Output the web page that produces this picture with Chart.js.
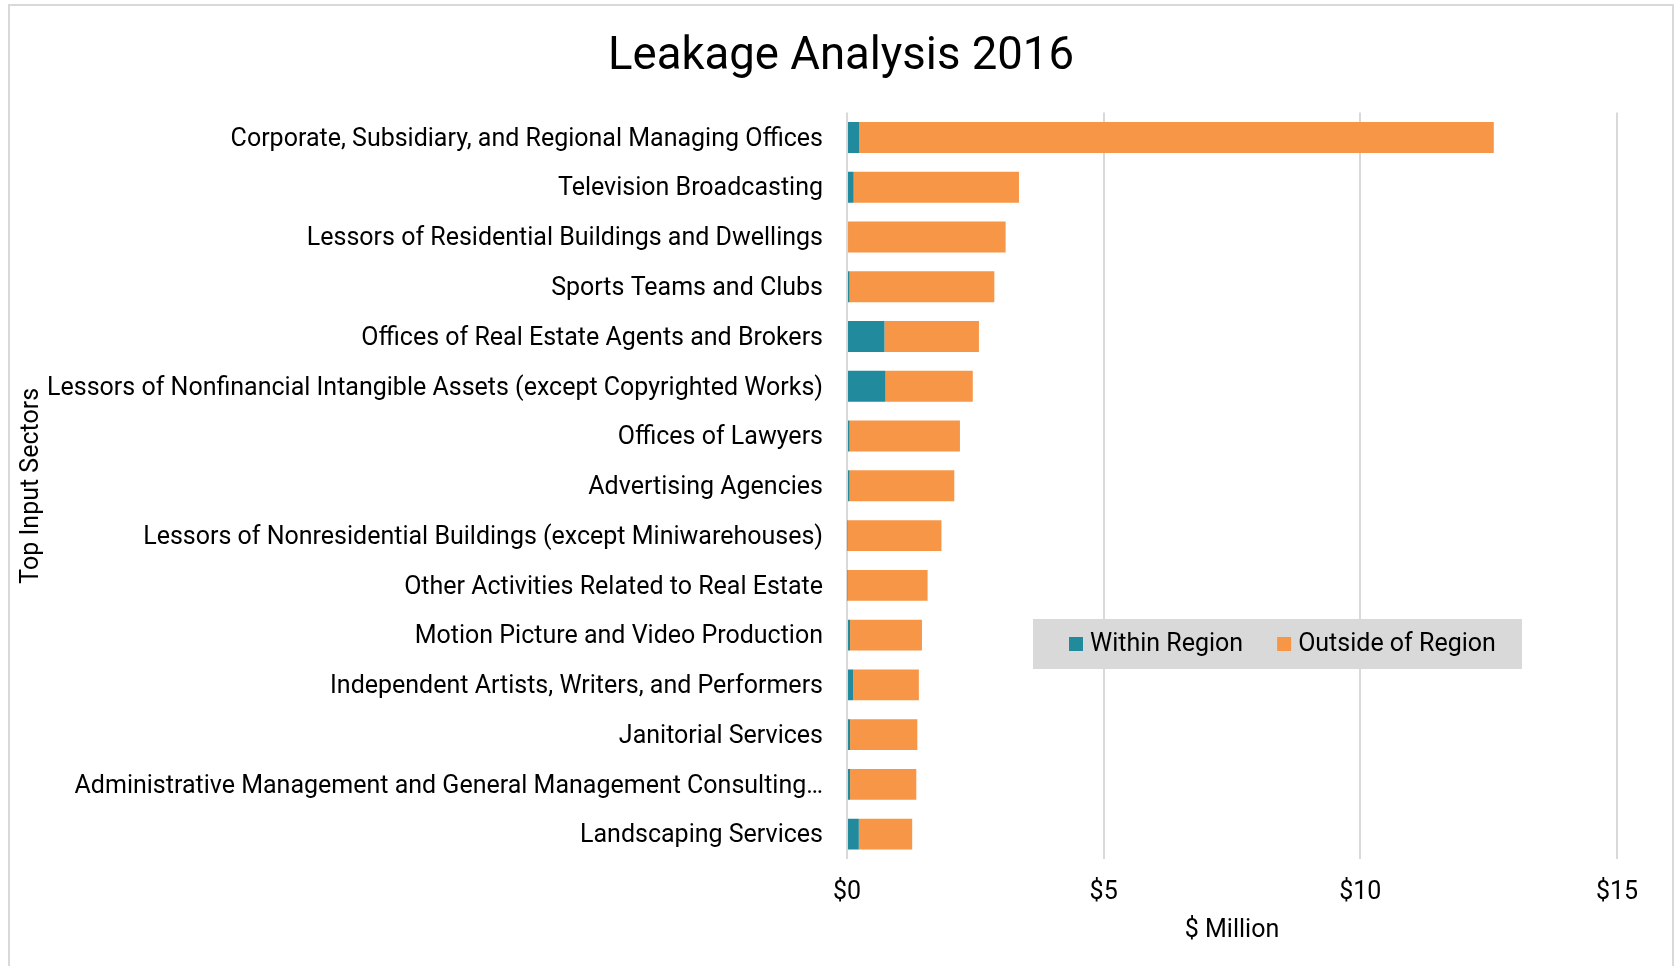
<!DOCTYPE html>
<html>
<head>
<meta charset="utf-8">
<script src="https://cdn.jsdelivr.net/npm/chart.js@4/dist/chart.umd.min.js"></script>
<style>
    html, body { margin: 0; padding: 0; background: #ffffff; }
    #leakageChart { display: block; }
</style>
</head>
<body>
<canvas id="leakageChart" width="1674" height="966"></canvas>
<script>
// Sectors, top to bottom
const sectors = [
    'Corporate, Subsidiary, and Regional Managing Offices',
    'Television Broadcasting',
    'Lessors of Residential Buildings and Dwellings',
    'Sports Teams and Clubs',
    'Offices of Real Estate Agents and Brokers',
    'Lessors of Nonfinancial Intangible Assets (except Copyrighted Works)',
    'Offices of Lawyers',
    'Advertising Agencies',
    'Lessors of Nonresidential Buildings (except Miniwarehouses)',
    'Other Activities Related to Real Estate',
    'Motion Picture and Video Production',
    'Independent Artists, Writers, and Performers',
    'Janitorial Services',
    'Administrative Management and General Management Consulting\u2026',
    'Landscaping Services'
];

// $ Million
const withinRegion = [0.24, 0.13, 0.02, 0.05, 0.73, 0.75, 0.05, 0.05, 0.01, 0.01, 0.06, 0.12, 0.06, 0.06, 0.23];
const outsideRegion = [12.36, 3.22, 3.07, 2.82, 1.84, 1.70, 2.15, 2.04, 1.83, 1.56, 1.40, 1.28, 1.31, 1.29, 1.04];

const xTicks = [0, 5, 10, 15];

const TEAL = '#218a9c';
const ORANGE = '#f79646';
const GRID = '#d9d9d9';
const FONT = 'Roboto, "Liberation Sans", sans-serif';

// white background + light frame like the exported chart
const framePlugin = {
    id: 'frame',
    beforeDraw(chart) {
        const ctx = chart.ctx;
        ctx.save();
        ctx.fillStyle = '#ffffff';
        ctx.fillRect(0, 0, chart.width, chart.height);
        ctx.strokeStyle = GRID;
        ctx.lineWidth = 2;
        ctx.beginPath();
        ctx.moveTo(9, chart.height);
        ctx.lineTo(9, 5);
        ctx.lineTo(1673, 5);
        ctx.lineTo(1673, chart.height);
        ctx.stroke();
        ctx.restore();
    }
};

// legend box sitting inside the plot area
const boxLegend = {
    id: 'boxLegend',
    afterDraw(chart) {
        const ctx = chart.ctx;
        const box = { x: 1033, y: 619, w: 489, h: 50 };
        ctx.save();
        ctx.fillStyle = '#d9d9d9';
        ctx.fillRect(box.x, box.y, box.w, box.h);
        ctx.font = '25px ' + FONT;
        ctx.textBaseline = 'middle';
        const sq = 14, gap = 7, between = 34;
        let x = 1069;
        const cy = box.y + box.h / 2;
        chart.data.datasets.forEach(ds => {
            ctx.fillStyle = ds.backgroundColor;
            ctx.fillRect(x, cy - sq / 2, sq, sq);
            x += sq + gap;
            ctx.fillStyle = '#000000';
            ctx.fillText(ds.label, x, cy + 1);
            x += ctx.measureText(ds.label).width + between;
        });
        ctx.restore();
    }
};

new Chart(document.getElementById('leakageChart').getContext('2d'), {
    type: 'bar',
    data: {
        labels: sectors,
        datasets: [{
            label: 'Within Region',
            data: withinRegion,
            backgroundColor: TEAL,
            barPercentage: 0.62,
            categoryPercentage: 1
        }, {
            label: 'Outside of Region',
            data: outsideRegion,
            backgroundColor: ORANGE,
            barPercentage: 0.62,
            categoryPercentage: 1
        }]
    },
    options: {
        indexAxis: 'y',
        responsive: false,
        animation: false,
        layout: {
            padding: { left: 8, right: 0, top: 0, bottom: 0 }
        },
        plugins: {
            legend: { display: false },
            tooltip: { enabled: false },
            title: {
                display: true,
                text: 'Leakage Analysis 2016',
                color: '#000000',
                font: { family: FONT, size: 45.5, weight: 'normal' },
                padding: { top: 30, bottom: 28 }
            }
        },
        scales: {
            x: {
                stacked: true,
                min: 0,
                max: 15,
                afterBuildTicks: scale => {
                    scale.ticks = xTicks.map(v => ({ value: v }));
                },
                afterFit: scale => { scale.height = 107; },
                grid: {
                    color: GRID,
                    lineWidth: 2,
                    drawTicks: false
                },
                border: { display: false },
                ticks: {
                    color: '#000000',
                    padding: 19,
                    font: { family: FONT, size: 25 },
                    callback: v => '$' + v
                },
                title: {
                    display: true,
                    text: '$ Million',
                    color: '#000000',
                    font: { family: FONT, size: 25 },
                    padding: { top: 0, bottom: 20 }
                }
            },
            y: {
                stacked: true,
                afterFit: scale => { scale.width = 839; },
                grid: { display: false, drawTicks: false },
                border: { display: false },
                ticks: {
                    color: '#000000',
                    padding: 24,
                    labelOffset: 2,
                    autoSkip: false,
                    font: { family: FONT, size: 25 }
                },
                title: {
                    display: true,
                    text: 'Top Input Sectors',
                    color: '#000000',
                    font: { family: FONT, size: 25 },
                    padding: { top: 9, bottom: 0 }
                }
            },
            // empty right-hand margin so the plot ends at $15 like the original
            yRight: {
                type: 'linear',
                position: 'right',
                afterFit: scale => { scale.width = 57; },
                grid: { display: false, drawTicks: false },
                border: { display: false },
                ticks: { display: false }
            }
        }
    },
    plugins: [framePlugin, boxLegend]
});
</script>
</body>
</html>
